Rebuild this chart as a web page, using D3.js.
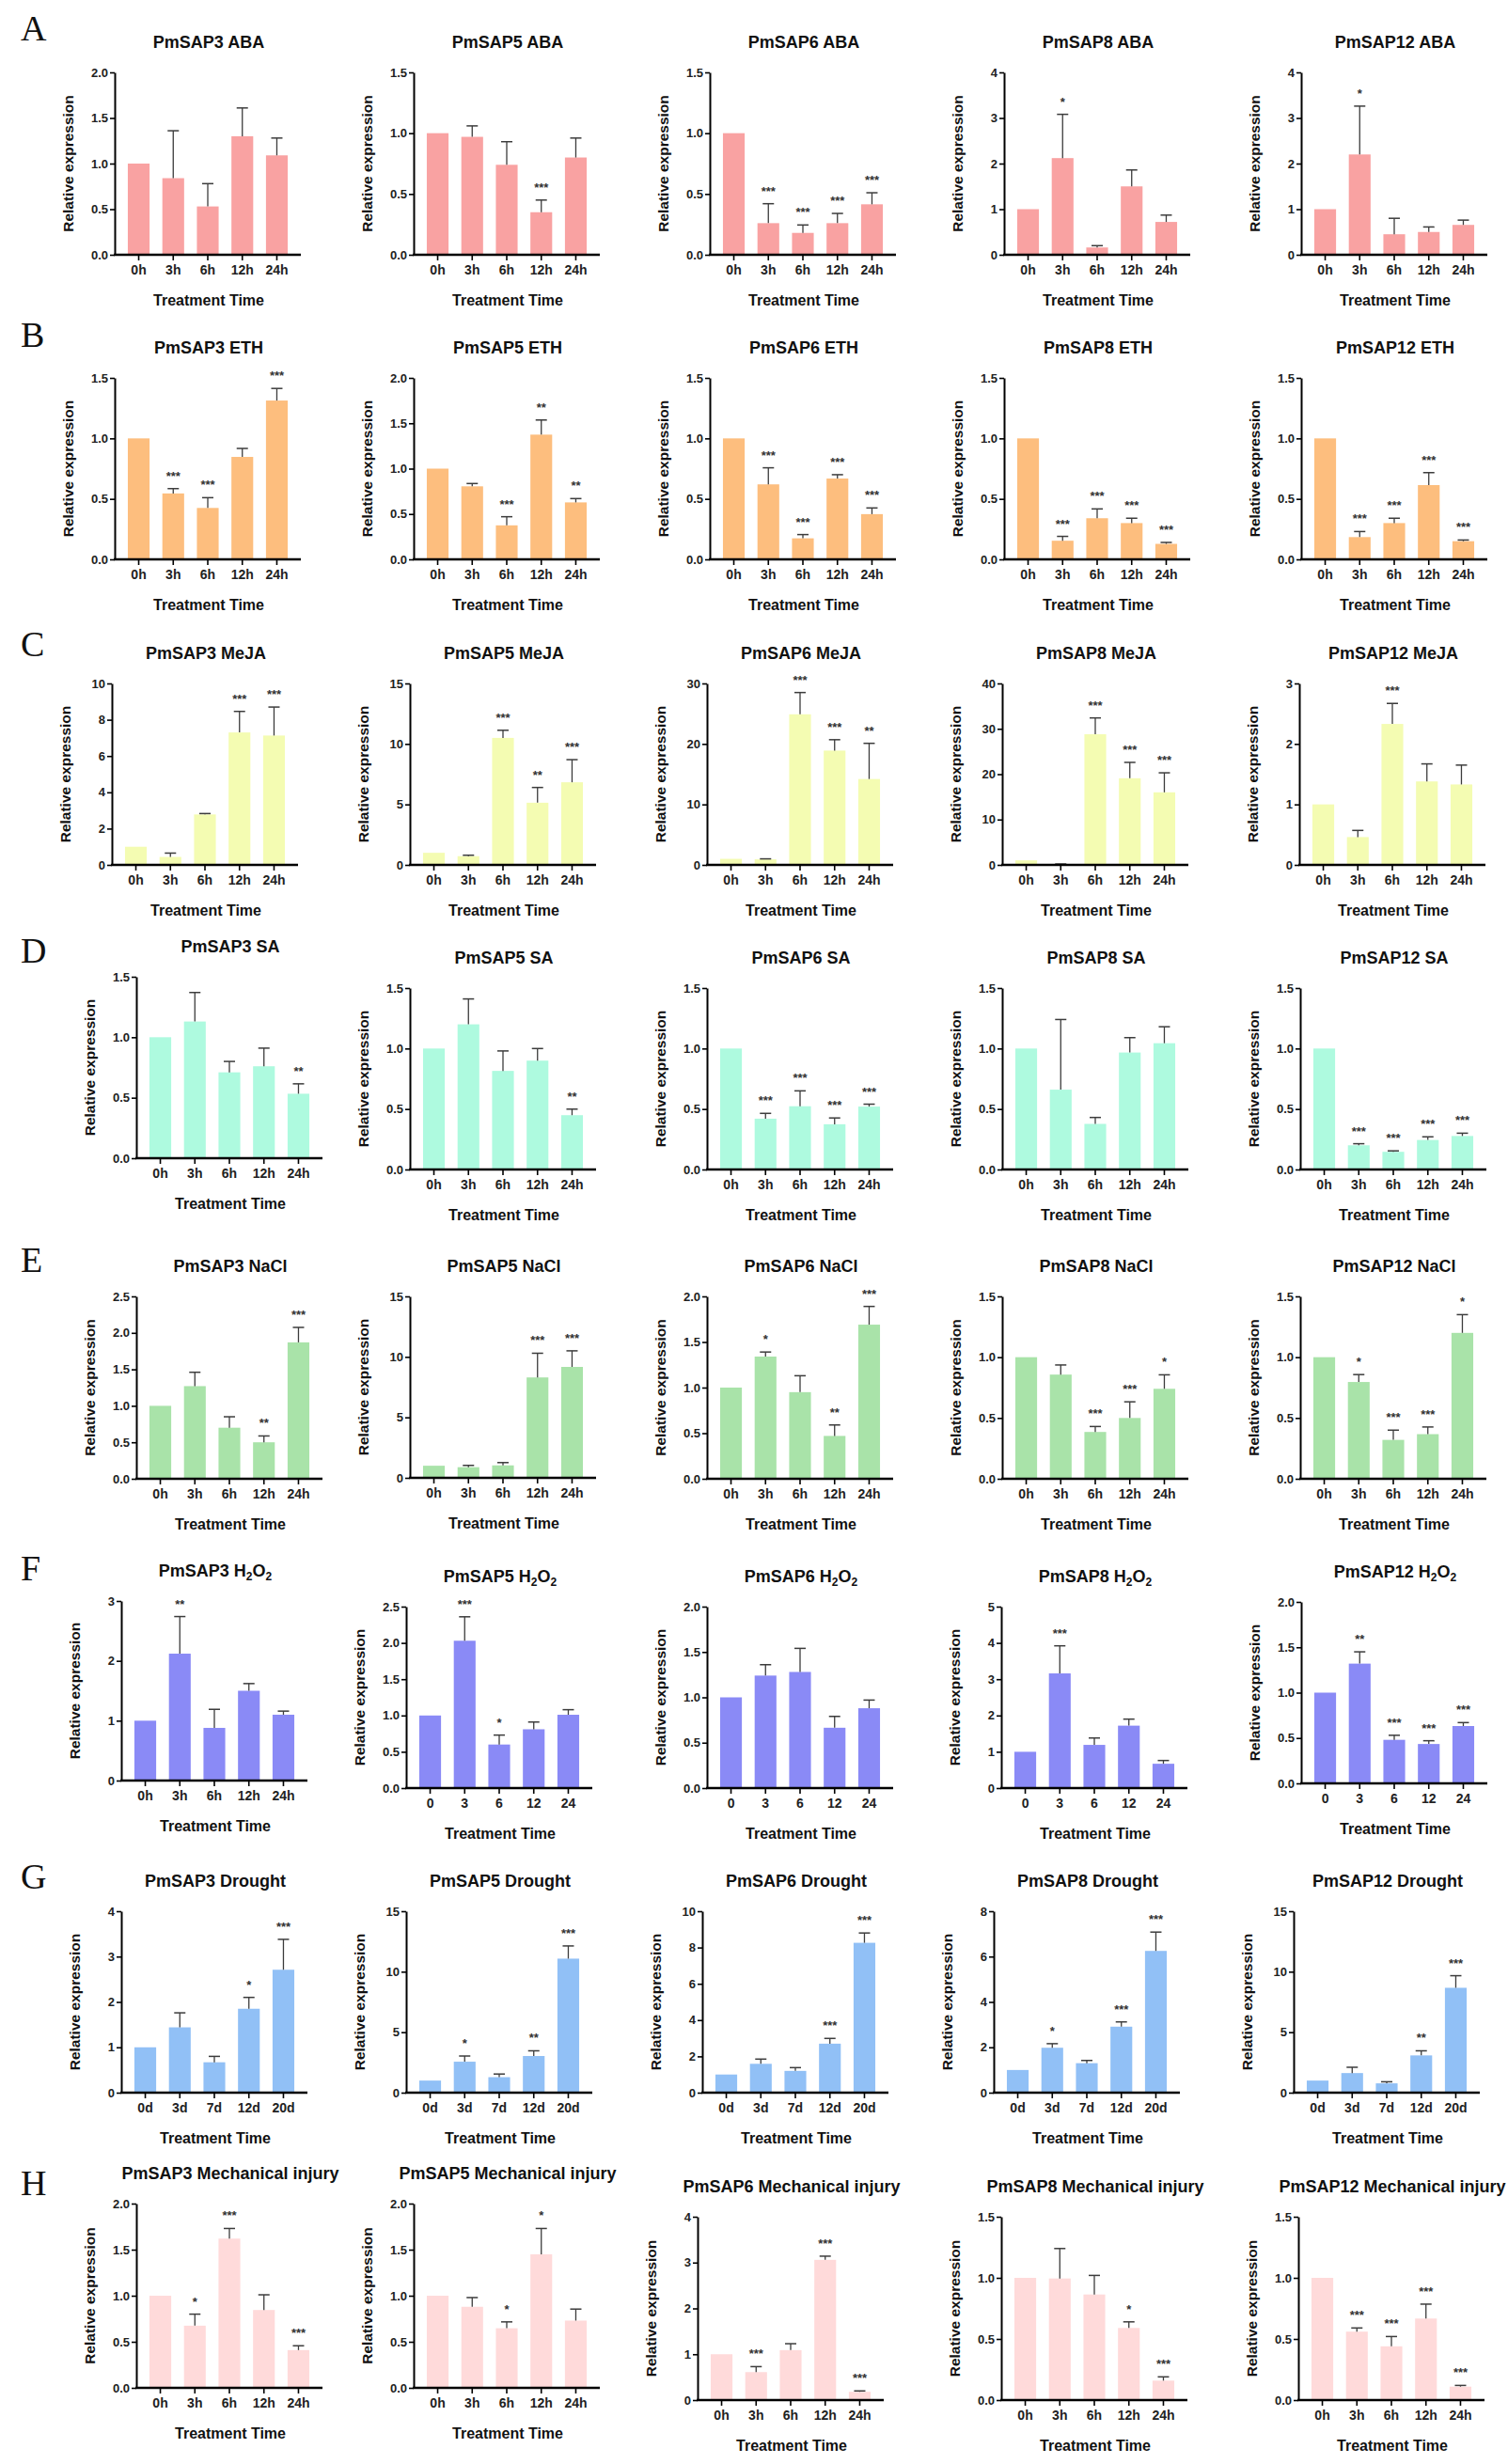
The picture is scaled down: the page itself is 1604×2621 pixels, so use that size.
<!DOCTYPE html>
<html><head><meta charset="utf-8">
<script src="https://cdn.jsdelivr.net/npm/d3@7"></script>
<style>
body{margin:0;background:#fff}
svg{display:block}
text{font-family:"Liberation Sans",Arial,Helvetica,sans-serif;font-weight:bold}
</style>
</head><body><div id="chart"></div>
<script>
// ---------------- DATA ----------------
const genes = ["PmSAP3","PmSAP5","PmSAP6","PmSAP8","PmSAP12"];
const rowLetters = ["A","B","C","D","E","F","G","H"];
const treatments = ["ABA","ETH","MeJA","SA","NaCl","H2O2","Drought","Mechanical injury"];
const hourLabels = ["0h","3h","6h","12h","24h"];
const hourNumLabels = ["0","3","6","12","24"];
const dayLabels = ["0d","3d","7d","12d","20d"];
const rowColors = ["#F9A2A2","#FDBE7E","#F4FCB2","#AEFADF","#A9E3A9","#8A8AF6","#91C0F6","#FFDADA"];

// ABA
const meanABA = [[1,0.84,0.53,1.30,1.09],[1,0.97,0.74,0.35,0.80],[1,0.26,0.18,0.26,0.415],[1,2.12,0.16,1.50,0.72],[1,2.20,0.45,0.50,0.655]];
const sdABA   = [[0,0.52,0.25,0.31,0.19],[0,0.09,0.19,0.10,0.16],[0,0.16,0.065,0.08,0.095],[0,0.96,0.04,0.36,0.15],[0,1.06,0.35,0.11,0.105]];
const sigABA  = [["","","","",""],["","","","***",""],["","***","***","***","***"],["","*","","",""],["","*","","",""]];
const axisMaxABA = [2,1.5,1.5,4,4];
const axisStepABA = [0.5,0.5,0.5,1,1];
// ETH
const meanETH = [[1,0.545,0.425,0.847,1.313],[1,0.805,0.375,1.375,0.628],[1,0.62,0.174,0.668,0.374],[1,0.154,0.34,0.30,0.128],[1,0.184,0.30,0.614,0.15]];
const sdETH   = [[0,0.04,0.085,0.07,0.10],[0,0.031,0.095,0.161,0.042],[0,0.137,0.031,0.032,0.051],[0,0.036,0.077,0.04,0.012],[0,0.046,0.04,0.103,0.01]];
const sigETH  = [["","***","***","","***"],["","","***","**","**"],["","***","***","***","***"],["","***","***","***","***"],["","***","***","***","***"]];
const axisMaxETH = [1.5,2,1.5,1.5,1.5];
const axisStepETH = [0.5,0.5,0.5,0.5,0.5];
// MeJA
const meanMeJA = [[1,0.44,2.78,7.3,7.13],[1,0.72,10.5,5.14,6.83],[1,0.92,24.9,18.9,14.2],[1,0.15,28.8,19.1,16.0],[1,0.46,2.33,1.38,1.33]];
const sdMeJA   = [[0,0.21,0.05,1.16,1.57],[0,0.08,0.63,1.26,1.87],[0,0.08,3.6,1.8,5.9],[0,0.05,3.6,3.5,4.3],[0,0.11,0.34,0.29,0.32]];
const sigMeJA  = [["","","","***","***"],["","","***","**","***"],["","","***","***","**"],["","","***","***","***"],["","","***","",""]];
const axisMaxMeJA = [10,15,30,40,3];
const axisStepMeJA = [2,5,10,10,1];
// SA
const meanSA = [[1,1.13,0.71,0.76,0.533],[1,1.2,0.815,0.90,0.449],[1,0.42,0.523,0.374,0.52],[1,0.66,0.377,0.967,1.044],[1,0.2,0.146,0.244,0.277]];
const sdSA   = [[0,0.24,0.09,0.15,0.082],[0,0.21,0.165,0.10,0.05],[0,0.044,0.127,0.052,0.02],[0,0.58,0.053,0.123,0.136],[0,0.013,0.008,0.026,0.023]];
const sigSA  = [["","","","","**"],["","","","","**"],["","***","***","***","***"],["","","","",""],["","***","***","***","***"]];
const axisMaxSA = [1.5,1.5,1.5,1.5,1.5];
const axisStepSA = [0.5,0.5,0.5,0.5,0.5];
// NaCl
const meanNaCl = [[1,1.27,0.70,0.50,1.87],[1,0.88,1.03,8.3,9.17],[1,1.34,0.95,0.47,1.69],[1,0.857,0.385,0.50,0.74],[1,0.796,0.32,0.367,1.2]];
const sdNaCl   = [[0,0.19,0.15,0.087,0.205],[0,0.15,0.23,2.0,1.33],[0,0.05,0.18,0.12,0.2],[0,0.079,0.045,0.133,0.115],[0,0.061,0.08,0.059,0.15]];
const sigNaCl  = [["","","","**","***"],["","","","***","***"],["","*","","**","***"],["","","***","***","*"],["","*","***","***","*"]];
const axisMaxNaCl = [2.5,15,2,1.5,1.5];
const axisStepNaCl = [0.5,5,0.5,0.5,0.5];
// H2O2
const meanH2O2 = [[1,2.12,0.88,1.50,1.10],[1,2.03,0.60,0.81,1.01],[1,1.24,1.28,0.665,0.88],[1,3.16,1.19,1.72,0.67],[1,1.32,0.48,0.434,0.632]];
const sdH2O2   = [[0,0.62,0.31,0.12,0.06],[0,0.33,0.13,0.10,0.07],[0,0.12,0.26,0.125,0.09],[0,0.76,0.19,0.18,0.09],[0,0.13,0.05,0.036,0.038]];
const sigH2O2  = [["","**","","",""],["","***","*","",""],["","","","",""],["","***","","",""],["","**","***","***","***"]];
const axisMaxH2O2 = [3,2.5,2,5,2];
const axisStepH2O2 = [1,0.5,0.5,1,0.5];
// Drought
const meanDrought = [[1,1.44,0.67,1.85,2.71],[1,2.56,1.28,3.03,11.08],[1,1.59,1.2,2.7,8.26],[1,1.98,1.3,2.91,6.25],[1,1.62,0.77,3.08,8.67]];
const sdDrought   = [[0,0.32,0.13,0.25,0.67],[0,0.47,0.26,0.43,1.05],[0,0.26,0.18,0.29,0.54],[0,0.18,0.12,0.21,0.83],[0,0.48,0.13,0.38,1.0]];
const sigDrought  = [["","","","*","***"],["","*","","**","***"],["","","","***","***"],["","*","","***","***"],["","","","**","***"]];
const axisMaxDrought = [4,15,10,8,15];
const axisStepDrought = [1,5,2,2,5];
// Mechanical injury
const meanInjury = [[1,0.675,1.62,0.845,0.41],[1,0.88,0.647,1.45,0.73],[1,0.61,1.09,3.06,0.18],[1,0.995,0.864,0.59,0.159],[1,0.56,0.44,0.667,0.11]];
const sdInjury   = [[0,0.125,0.11,0.165,0.047],[0,0.10,0.069,0.28,0.125],[0,0.12,0.14,0.08,0.02],[0,0.245,0.156,0.05,0.031],[0,0.03,0.08,0.118,0.01]];
const sigInjury  = [["","*","***","","***"],["","","*","*",""],["","***","","***","***"],["","","","*","***"],["","***","***","***","***"]];
const axisMaxInjury = [2,2,4,1.5,1.5];
const axisStepInjury = [0.5,0.5,1,0.5,0.5];

const allMeans = [meanABA,meanETH,meanMeJA,meanSA,meanNaCl,meanH2O2,meanDrought,meanInjury];
const allSds = [sdABA,sdETH,sdMeJA,sdSA,sdNaCl,sdH2O2,sdDrought,sdInjury];
const allSigs = [sigABA,sigETH,sigMeJA,sigSA,sigNaCl,sigH2O2,sigDrought,sigInjury];
const allMax = [axisMaxABA,axisMaxETH,axisMaxMeJA,axisMaxSA,axisMaxNaCl,axisMaxH2O2,axisMaxDrought,axisMaxInjury];
const allStep = [axisStepABA,axisStepETH,axisStepMeJA,axisStepSA,axisStepNaCl,axisStepH2O2,axisStepDrought,axisStepInjury];

// ---------------- LAYOUT ----------------
const W = 1604, H = 2621, plotW = 198;
const layoutX = [
  [122,440,755,1068,1384],
  [122,440,755,1068,1384],
  [119,436,752,1066,1382],
  [145,436,752,1066,1383],
  [145,436,752,1066,1383],
  [129,432,752,1065,1384],
  [129,432,747,1057,1376],
  [145,440,742,1065,1381]
];
const layoutTop = [
  [77,77,77,77,77],
  [402,402,402,402,402],
  [727,727,727,727,727],
  [1039,1051,1051,1051,1051],
  [1379,1379,1379,1379,1379],
  [1703,1709,1709,1709,1704],
  [2033,2033,2033,2033,2033],
  [2344,2344,2358,2358,2358]
];
const layoutBottom = [
  [271,271,271,271,271],
  [595,595,595,595,595],
  [920,920,920,920,920],
  [1232,1244,1244,1244,1244],
  [1573,1572,1573,1573,1573],
  [1894,1902,1902,1902,1897],
  [2226,2226,2226,2226,2226],
  [2540,2540,2553,2553,2553]
];
const letterY = [43,369,698,1024,1353,1681,2009,2335];

const svg = d3.select("#chart").append("svg").attr("width",W).attr("height",H)
  .attr("viewBox",`0 0 ${W} ${H}`);
svg.append("rect").attr("width",W).attr("height",H).attr("fill","#fff");

rowLetters.forEach((L,r)=>{
  svg.append("text").attr("x",22).attr("y",letterY[r])
    .style("font-family","'Liberation Serif','Times New Roman',serif")
    .style("font-weight","normal").style("font-size","38px").attr("fill","#111").text(L);
});

function xLabelsFor(r,c){
  if (r===6) return dayLabels;
  if (r===5 && c>0) return hourNumLabels;
  return hourLabels;
}

for (let r=0;r<8;r++){
  for (let c=0;c<5;c++){
    const x0 = layoutX[r][c], top = layoutTop[r][c], bottom = layoutBottom[r][c];
    const means = allMeans[r][c], sds = allSds[r][c], sigs = allSigs[r][c];
    const ymax = allMax[r][c], step = allStep[r][c];
    const labels = xLabelsFor(r,c);
    const g = svg.append("g");

    const x = d3.scaleBand().domain(labels).range([x0, x0+plotW]).paddingInner(0.37).paddingOuter(0.38);
    const y = d3.scaleLinear().domain([0,ymax]).range([bottom, top]);

    const rows = labels.map((l,i)=>({label:l, mean:means[i], sd:sds[i], sig:sigs[i]}));

    // bars
    g.selectAll("rect.bar").data(rows).join("rect").attr("class","bar")
      .attr("x",d=>x(d.label)).attr("width",x.bandwidth())
      .attr("y",d=>y(d.mean)).attr("height",d=>y(0)-y(d.mean))
      .attr("fill",rowColors[r]);

    // error bars (upper only)
    const eb = rows.filter(d=>d.sd>0);
    g.selectAll("line.eb").data(eb).join("line").attr("class","eb")
      .attr("x1",d=>x(d.label)+x.bandwidth()/2).attr("x2",d=>x(d.label)+x.bandwidth()/2)
      .attr("y1",d=>y(d.mean)).attr("y2",d=>y(d.mean+d.sd))
      .attr("stroke","#3c3c3c").attr("stroke-width",1.3);
    g.selectAll("line.cap").data(eb).join("line").attr("class","cap")
      .attr("x1",d=>x(d.label)+x.bandwidth()/2-6).attr("x2",d=>x(d.label)+x.bandwidth()/2+6)
      .attr("y1",d=>y(d.mean+d.sd)).attr("y2",d=>y(d.mean+d.sd))
      .attr("stroke","#3c3c3c").attr("stroke-width",1.5);

    // significance
    g.selectAll("text.sig").data(rows.filter(d=>d.sig)).join("text").attr("class","sig")
      .attr("x",d=>x(d.label)+x.bandwidth()/2)
      .attr("y",d=>y(d.mean+d.sd)-9)
      .attr("text-anchor","middle").style("font-size","13px").attr("fill","#333")
      .text(d=>d.sig);

    // y axis
    const ticks = d3.range(0, ymax+step/2, step);
    const fmt = step<1 ? d3.format(".1f") : d3.format("d");
    const ya = g.append("g").attr("transform",`translate(${x0},0)`)
      .call(d3.axisLeft(y).tickValues(ticks).tickFormat(fmt).tickSize(5).tickSizeOuter(0));
    ya.select(".domain").attr("stroke","#000").attr("stroke-width",2);
    ya.selectAll(".tick line").attr("stroke","#000").attr("stroke-width",1.6);
    ya.selectAll(".tick text").style("font-size","13px").style("font-family","'Liberation Sans',Arial,sans-serif")
      .style("font-weight","bold").attr("fill","#222").attr("x",-7);

    // x axis
    const xa = g.append("g").attr("transform",`translate(0,${bottom})`)
      .call(d3.axisBottom(x).tickSize(6).tickSizeOuter(0));
    xa.select(".domain").attr("stroke","#000").attr("stroke-width",2.6)
      .attr("d",`M${x0-1},0H${x0+plotW}`);
    xa.selectAll(".tick line").attr("stroke","#000").attr("stroke-width",1.6);
    xa.selectAll(".tick text").style("font-size","14px").style("font-family","'Liberation Sans',Arial,sans-serif")
      .style("font-weight","bold").attr("fill","#222").attr("y",11);

    // title
    const t = g.append("text").attr("x",x0+100).attr("y",top-26).attr("text-anchor","middle")
      .style("font-size","18px").attr("fill","#111");
    const tname = treatments[r];
    if (tname==="H2O2"){
      t.append("tspan").text(genes[c]+" H");
      t.append("tspan").attr("dy",4).style("font-size","12px").text("2");
      t.append("tspan").attr("dy",-4).text("O");
      t.append("tspan").attr("dy",4).style("font-size","12px").text("2");
    } else {
      t.text(genes[c]+" "+tname);
    }

    // y label
    g.append("text").attr("transform",`translate(${x0-44},${(top+bottom)/2}) rotate(-90)`)
      .attr("text-anchor","middle").style("font-size","15.5px").attr("fill","#111")
      .text("Relative expression");

    // x label
    g.append("text").attr("x",x0+100).attr("y",bottom+54).attr("text-anchor","middle")
      .style("font-size","16px").attr("fill","#111").text("Treatment Time");
  }
}
</script></body></html>
